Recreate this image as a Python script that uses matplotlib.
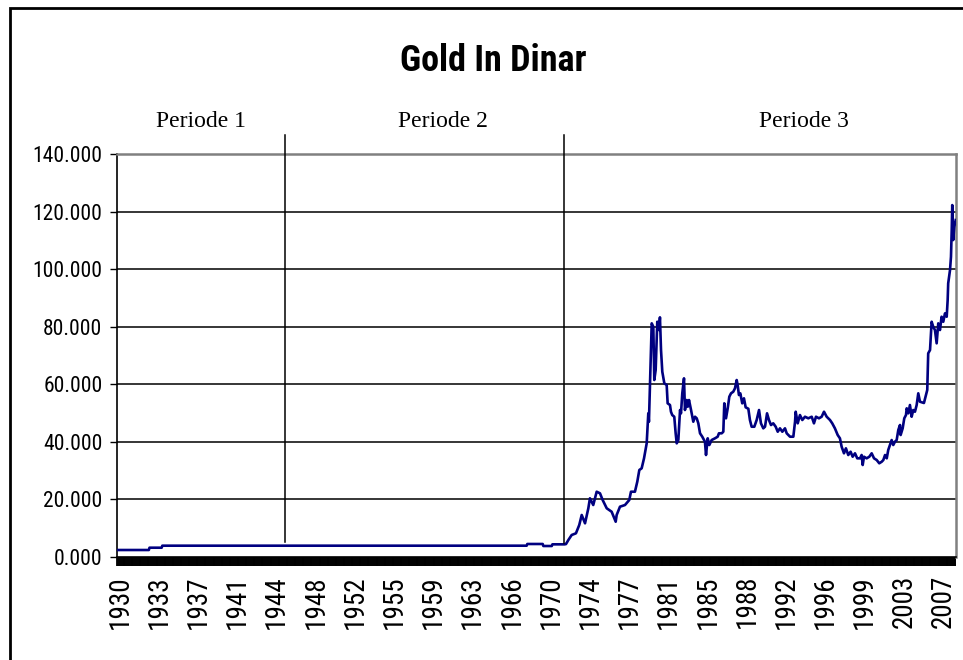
import numpy as np
import matplotlib
matplotlib.use("Agg")
import matplotlib.pyplot as plt
from matplotlib.patches import Rectangle
from matplotlib.ticker import FormatStrFormatter, FixedLocator

narrow = ["Roboto Condensed", "DejaVu Sans"]

# data (decimal year, value)
years = [
    1929.75, 1932.70, 1932.76, 1933.90, 1933.96, 1968.05, 1968.11, 1969.55,
    1969.61, 1970.40, 1970.46, 1971.60, 1971.73, 1971.95, 1972.26, 1972.66,
    1972.97, 1973.20, 1973.51, 1973.82, 1973.97, 1974.28, 1974.60, 1974.91,
    1975.16, 1975.54, 1976.00, 1976.38, 1976.47, 1976.78, 1977.25, 1977.65,
    1977.81, 1978.18, 1978.40, 1978.59, 1978.81, 1979.03, 1979.28, 1979.43,
    1979.49, 1979.59, 1979.75, 1979.90, 1979.99, 1980.12, 1980.27, 1980.43,
    1980.52, 1980.62, 1980.74, 1980.93, 1981.15, 1981.24, 1981.46, 1981.55,
    1981.67, 1981.86, 1981.99, 1982.09, 1982.24, 1982.40, 1982.49, 1982.61,
    1982.77, 1982.86, 1983.02, 1983.12, 1983.24, 1983.43, 1983.64, 1983.80,
    1983.96, 1984.11, 1984.27, 1984.48, 1984.73, 1984.83, 1984.99, 1985.14,
    1985.36, 1985.67, 1985.92, 1986.04, 1986.30, 1986.45, 1986.54, 1986.70,
    1986.86, 1987.01, 1987.17, 1987.38, 1987.54, 1987.70, 1987.79, 1987.91,
    1988.04, 1988.22, 1988.38, 1988.54, 1988.79, 1988.94, 1989.10, 1989.35,
    1989.57, 1989.79, 1989.97, 1990.19, 1990.35, 1990.54, 1990.72, 1990.91,
    1991.12, 1991.35, 1991.54, 1991.75, 1991.97, 1992.22, 1992.38, 1992.69,
    1993.00, 1993.16, 1993.22, 1993.41, 1993.62, 1993.84, 1994.09, 1994.40,
    1994.72, 1994.93, 1995.12, 1995.40, 1995.65, 1995.87, 1996.12, 1996.43,
    1996.64, 1996.89, 1997.15, 1997.36, 1997.52, 1997.74, 1997.92, 1998.14,
    1998.36, 1998.55, 1998.77, 1998.98, 1999.24, 1999.39, 1999.49, 1999.61,
    1999.86, 2000.11, 2000.33, 2000.55, 2000.80, 2001.04, 2001.27, 2001.42,
    2001.58, 2001.74, 2001.88, 2002.04, 2002.20, 2002.35, 2002.51, 2002.67,
    2002.82, 2002.98, 2003.04, 2003.23, 2003.38, 2003.54, 2003.61, 2003.76,
    2003.91, 2004.07, 2004.22, 2004.38, 2004.54, 2004.69, 2004.85, 2005.22,
    2005.53, 2005.62, 2005.79, 2005.94, 2006.09, 2006.25, 2006.41, 2006.56,
    2006.72, 2006.87, 2007.03, 2007.19, 2007.35, 2007.44, 2007.49, 2007.66,
    2007.75, 2007.82, 2007.87, 2007.96, 2008.06, 2008.19,
]
dinar = [
    2.43, 2.43, 3.23, 3.23, 3.93, 3.93, 4.52, 4.52,
    3.82, 3.82, 4.40, 4.40, 4.50, 5.90, 7.64, 8.23,
    11.11, 14.59, 11.71, 16.92, 20.39, 18.06, 22.68, 22.13,
    19.80, 16.92, 15.73, 12.26, 14.59, 17.47, 18.06, 19.80,
    22.68, 22.68, 26.16, 30.22, 30.81, 34.28, 39.49, 49.91,
    47.00, 60.33, 81.17, 79.99, 61.48, 64.95, 81.73, 78.85,
    83.26, 71.90, 64.36, 60.33, 59.74, 53.39, 52.80, 50.47,
    49.32, 48.73, 42.97, 39.49, 40.64, 51.06, 49.91, 56.86,
    62.07, 51.06, 54.53, 52.21, 54.53, 51.06, 47.00, 48.73,
    48.18, 46.44, 42.97, 41.79, 40.05, 35.43, 41.23, 38.90,
    40.64, 41.23, 41.79, 42.97, 42.97, 43.52, 53.39, 48.18,
    51.65, 55.68, 56.86, 57.42, 58.60, 61.48, 59.74, 56.27,
    56.86, 53.39, 55.12, 52.00, 51.50, 47.59, 45.26, 45.26,
    47.59, 51.06, 46.44, 44.70, 45.26, 49.91, 47.59, 45.85,
    46.44, 45.26, 43.52, 44.70, 43.52, 44.70, 42.97, 41.79,
    41.79, 47.00, 50.47, 46.44, 49.32, 47.59, 48.73, 48.18,
    48.73, 46.44, 48.73, 48.18, 48.73, 50.47, 48.73, 47.59,
    46.44, 44.70, 42.38, 41.23, 38.31, 36.02, 37.76, 35.43,
    36.57, 34.84, 36.02, 34.28, 34.28, 35.43, 31.96, 34.84,
    34.28, 34.84, 36.02, 34.28, 33.69, 32.55, 33.10, 33.69,
    35.43, 34.28, 37.17, 38.90, 40.64, 38.90, 40.05, 40.64,
    44.11, 45.85, 42.38, 44.70, 48.18, 49.32, 51.65, 49.91,
    52.80, 48.73, 51.06, 50.47, 52.80, 56.86, 53.94, 53.50,
    58.01, 70.75, 71.90, 81.73, 79.99, 78.85, 74.23, 81.17,
    78.85, 83.47, 81.73, 84.65, 83.47, 89.27, 95.07, 99.69,
    104.31, 113.58, 122.26, 110.11, 114.73, 117.05,
]

tick_labels = ["1930", "1933", "1937", "1941", "1944", "1948", "1952", "1955",
               "1959", "1963", "1966", "1970", "1974", "1977", "1981", "1985",
               "1988", "1992", "1996", "1999", "2003", "2007"]
period_breaks = [1945.4, 1971.55]
period_names = ["Periode 1", "Periode 2", "Periode 3"]

fig = plt.figure(figsize=(9.63, 6.6), dpi=100)
fig.patch.set_facecolor("white")
ax = fig.add_axes([117 / 963, 103 / 660, 839 / 963, 403 / 660])

for g in range(20, 121, 20):
    ax.axhline(g, color="black", lw=1.1, zorder=1)

ax.plot(years, dinar, color="#000080", lw=1.9, zorder=3)

ax.set_xlim(1929.72, 2008.22)
ax.set_ylim(0, 140)

# category-style axis: a label every 44 months, a tick every month
ax.xaxis.set_major_locator(FixedLocator([1930 + k * 44 / 12 for k in range(len(tick_labels))]))
ax.set_xticklabels(tick_labels, rotation=90, fontsize=19.5, family=narrow)
ax.xaxis.set_minor_locator(FixedLocator(np.arange(1929.75, 2008.22, 1 / 12)))
ax.tick_params(axis="x", which="both", direction="out", length=6.5, width=1.3, color="black")
ax.tick_params(axis="x", which="major", pad=6.5)

ax.set_yticks(range(0, 141, 20))
ax.yaxis.set_major_formatter(FormatStrFormatter("%.3f"))
ax.tick_params(axis="y", direction="out", length=5, width=1, pad=5.5, labelsize=15.5)
for lab in ax.get_yticklabels():
    lab.set_family(narrow)

ax.spines["left"].set_color("black")
ax.spines["left"].set_linewidth(1.2)
ax.spines["bottom"].set_color("black")
ax.spines["bottom"].set_linewidth(1.2)
ax.spines["top"].set_color("#808080")
ax.spines["top"].set_linewidth(1.8)
ax.spines["right"].set_color("#808080")
ax.spines["right"].set_linewidth(1.8)

# separators between the periods
for xb, yb in zip(period_breaks, [5.2, 4.9]):
    ax.plot([xb, xb], [yb, 146.5], color="black", lw=1.1, clip_on=False, zorder=4)

for name, px in zip(period_names, [201, 443, 804]):
    fig.text(px / 963, 1 - 127 / 660, name, ha="center", va="baseline",
             family="Liberation Serif", fontsize=17)

fig.text(493 / 963, 1 - 71 / 660, "Gold In Dinar", ha="center", va="baseline",
         family=narrow, fontweight="bold", fontsize=26)

# chart frame
fig.add_artist(Rectangle((10 / 963, -0.05), 1.0, 1 - 8 / 660 + 0.05,
                         transform=fig.transFigure, fill=False, lw=2, ec="black"))

fig.savefig("out.png", dpi=100)
